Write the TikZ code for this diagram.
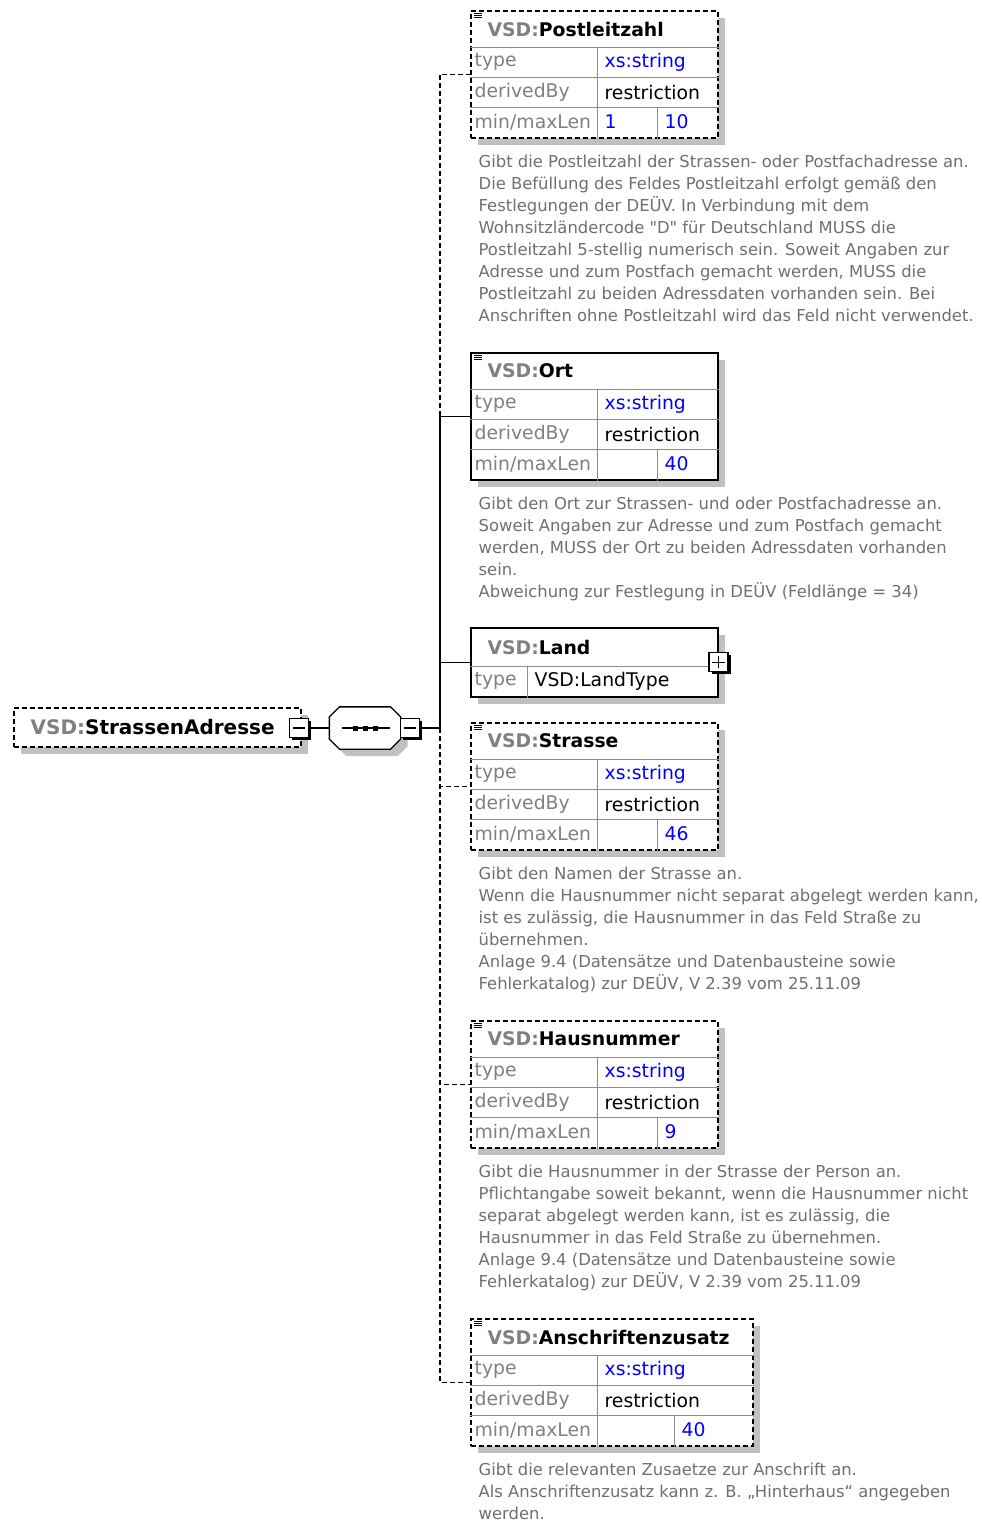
\documentclass[tikz,border=0pt]{standalone}
\usepackage{fontspec}
\setmainfont{DejaVu Sans}[Ligatures=TeXOff]
\usetikzlibrary{shadows,positioning}
\definecolor{labelgray}{HTML}{808080}
\definecolor{docgray}{HTML}{707070}
\definecolor{rowgray}{HTML}{8C8C8C}
\definecolor{shadowgray}{HTML}{C0C0C0}
\definecolor{typeblue}{HTML}{0000FF}

% simple element: name, border, top left, width, min, max, max column, documentation
\newcommand{\SimpleElem}[8]{%
  \node[elembox, #2, minimum width=#4pt, anchor=north west] (#1) at (#3) {};
  \draw[rowline] ([yshift=-37pt]#1.north west) -- ([yshift=-37pt]#1.north east);
  \draw[rowline] ([yshift=-67pt]#1.north west) -- ([yshift=-67pt]#1.north east);
  \draw[rowline] ([yshift=-97pt]#1.north west) -- ([yshift=-97pt]#1.north east);
  \draw[rowline] ([shift={(127pt,-37pt)}]#1.north west) -- ([xshift=127pt]#1.south west);
  \draw[rowline] ([shift={(#7pt,-97pt)}]#1.north west) -- ([xshift=#7pt]#1.south west);
  \foreach \l in {3,5,7}
    \draw[docline] ([shift={(4pt,-\l pt)}]#1.north west) -- ++(8pt,0pt);
  \node[elemtitle] (#1Title) at ([shift={(17pt,-19pt)}]#1.north west) {\textcolor{labelgray}{VSD:}#1};
  \node[rowkey] (#1Type) at ([shift={(4pt,-52pt)}]#1.north west) {type};
  \node[rowval, typeblue] (#1TypeVal) at ([shift={(134pt,-52pt)}]#1.north west) {xs:string};
  \node[rowkey] (#1Derived) at ([shift={(4pt,-82pt)}]#1.north west) {derivedBy};
  \node[rowval] (#1DerivedVal) at ([shift={(134pt,-82pt)}]#1.north west) {restriction};
  \node[rowkey] (#1Len) at ([shift={(4pt,-112pt)}]#1.north west) {min/maxLen};
  \node[rowval, typeblue] (#1Min) at ([shift={(134pt,-112pt)}]#1.north west) {#5};
  \node[rowval, typeblue] (#1Max) at ([shift={(#7pt+7pt,-112pt)}]#1.north west) {#6};
  \node[elemdoc] (#1Doc) at ([shift={(8pt,-16pt)}]#1.south west) {#8};
}

\begin{document}
\begin{tikzpicture}
[x=1pt, y=-1pt, line width=1.3pt,
 optional/.style={dash pattern=on 5pt off 3pt},
 elembox/.style={rectangle, draw=black, line width=1.5pt, fill=white, inner sep=0pt,
   minimum height=127pt, drop shadow={shadow xshift=7pt, shadow yshift=-7pt, fill=shadowgray, opacity=1}},
 expbox/.style={rectangle, draw=black, line width=1.2pt, fill=white, inner sep=0pt, minimum size=19pt,
   drop shadow={shadow xshift=2.5pt, shadow yshift=-2.5pt, fill=black, opacity=1}},
 rowline/.style={draw=rowgray, line width=1pt},
 docline/.style={line width=1pt},
 elemtitle/.style={anchor=west, inner sep=0pt, font=\fontsize{18.8}{22}\selectfont\bfseries},
 rowkey/.style={anchor=west, inner sep=0pt, text=labelgray, font=\fontsize{18.8}{22}\selectfont},
 rowval/.style={anchor=west, inner sep=0pt, font=\fontsize{18.8}{22}\selectfont},
 elemdoc/.style={anchor=north west, align=left, inner sep=0pt, text=docgray, font=\fontsize{16.4}{22}\selectfont}]
\fill[white] (0,0) rectangle (982,1523);
\useasboundingbox (0,0) rectangle (982,1523);

% root element and sequence
\node[elembox, optional, minimum width=287pt, minimum height=39pt, anchor=north west] (StrassenAdresse) at (13,707) {};
\node[elemtitle, font=\fontsize{20}{22}\selectfont\bfseries] (RootTitle) at ([xshift=17pt]StrassenAdresse.west) {\textcolor{labelgray}{VSD:}StrassenAdresse};
\node[expbox] (RootMinus) at (299,728) {};
\draw ([xshift=4pt]RootMinus.west) -- ([xshift=-4pt]RootMinus.east);
\node[minimum width=70pt, minimum height=41pt, inner sep=0pt] (Seq) at (365,728) {};
\draw[fill=white, drop shadow={shadow xshift=7pt, shadow yshift=-7pt, fill=shadowgray, opacity=1}]
  ([xshift=10pt]Seq.north west) -- ([xshift=-10pt]Seq.north east) -- ([yshift=-10pt]Seq.north east)
  -- ([yshift=10pt]Seq.south east) -- ([xshift=-10pt]Seq.south east) -- ([xshift=10pt]Seq.south west)
  -- ([yshift=10pt]Seq.south west) -- ([yshift=-10pt]Seq.north west) -- cycle;
\draw ([xshift=-23pt]Seq.center) -- ([xshift=25pt]Seq.center);
\foreach \d in {-12.5,-2.5,7.5}
  \fill ([shift={(\d pt,-2.5pt)}]Seq.center) rectangle ++(5pt,5pt);
\node[expbox] (SeqMinus) at (410,728) {};
\draw ([xshift=4pt]SeqMinus.west) -- ([xshift=-4pt]SeqMinus.east);
\coordinate (Trunk) at (440,728);

\SimpleElem{Postleitzahl}{optional}{470,10}{247}{1}{10}{187}{Gibt die Postleitzahl der Strassen- oder Postfachadresse an.\\Die Befüllung des Feldes Postleitzahl erfolgt gemäß den\\Festlegungen der DEÜV. In Verbindung mit dem\\Wohnsitzländercode "D" für Deutschland MUSS die\\Postleitzahl 5-stellig numerisch sein. Soweit Angaben zur\\Adresse und zum Postfach gemacht werden, MUSS die\\Postleitzahl zu beiden Adressdaten vorhanden sein. Bei\\Anschriften ohne Postleitzahl wird das Feld nicht verwendet.}
\SimpleElem{Ort}{solid}{470,352}{247}{}{40}{187}{Gibt den Ort zur Strassen- und oder Postfachadresse an.\\Soweit Angaben zur Adresse und zum Postfach gemacht\\werden, MUSS der Ort zu beiden Adressdaten vorhanden\\sein.\\Abweichung zur Festlegung in DEÜV (Feldlänge = 34)}

% Land has a complex type
\node[elembox, solid, minimum width=247pt, minimum height=69pt, anchor=north west] (Land) at (470,627) {};
\draw[rowline] ([yshift=-39pt]Land.north west) -- ([yshift=-39pt]Land.north east);
\draw[rowline] ([shift={(57pt,-39pt)}]Land.north west) -- ([xshift=57pt]Land.south west);
\node[elemtitle] (LandTitle) at ([shift={(17pt,-20pt)}]Land.north west) {\textcolor{labelgray}{VSD:}Land};
\node[rowkey] (LandType) at ([shift={(4pt,-54pt)}]Land.north west) {type};
\node[rowval] (LandTypeVal) at ([shift={(64pt,-54pt)}]Land.north west) {VSD:LandType};
\node[expbox] (LandPlus) at (Land.east) {};
\draw ([xshift=4pt]LandPlus.west) -- ([xshift=-4pt]LandPlus.east);
\draw ([yshift=4pt]LandPlus.south) -- ([yshift=-4pt]LandPlus.north);

\SimpleElem{Strasse}{optional}{470,722}{247}{}{46}{187}{Gibt den Namen der Strasse an.\\Wenn die Hausnummer nicht separat abgelegt werden kann,\\ist es zulässig, die Hausnummer in das Feld Straße zu\\übernehmen.\\Anlage 9.4 (Datensätze und Datenbausteine sowie\\Fehlerkatalog) zur DEÜV, V 2.39 vom 25.11.09}
\SimpleElem{Hausnummer}{optional}{470,1020}{247}{}{9}{187}{Gibt die Hausnummer in der Strasse der Person an.\\Pflichtangabe soweit bekannt, wenn die Hausnummer nicht\\separat abgelegt werden kann, ist es zulässig, die\\Hausnummer in das Feld Straße zu übernehmen.\\Anlage 9.4 (Datensätze und Datenbausteine sowie\\Fehlerkatalog) zur DEÜV, V 2.39 vom 25.11.09}
\SimpleElem{Anschriftenzusatz}{optional}{470,1318}{282}{}{40}{204}{Gibt die relevanten Zusaetze zur Anschrift an.\\Als Anschriftenzusatz kann z. B. „Hinterhaus“ angegeben\\werden.}

% connectors
\draw (RootMinus.east) -- (Seq.west);
\draw (SeqMinus.east) -- (Trunk);
\draw[optional] (Trunk) |- (Postleitzahl.west);
\draw[optional] (Trunk) |- (Strasse.west);
\draw[optional] (Trunk) |- (Hausnummer.west);
\draw[optional] (Trunk) |- (Anschriftenzusatz.west);
\draw (Trunk) |- (Ort.west);
\draw (Trunk) |- (Land.west);
\end{tikzpicture}
\end{document}
